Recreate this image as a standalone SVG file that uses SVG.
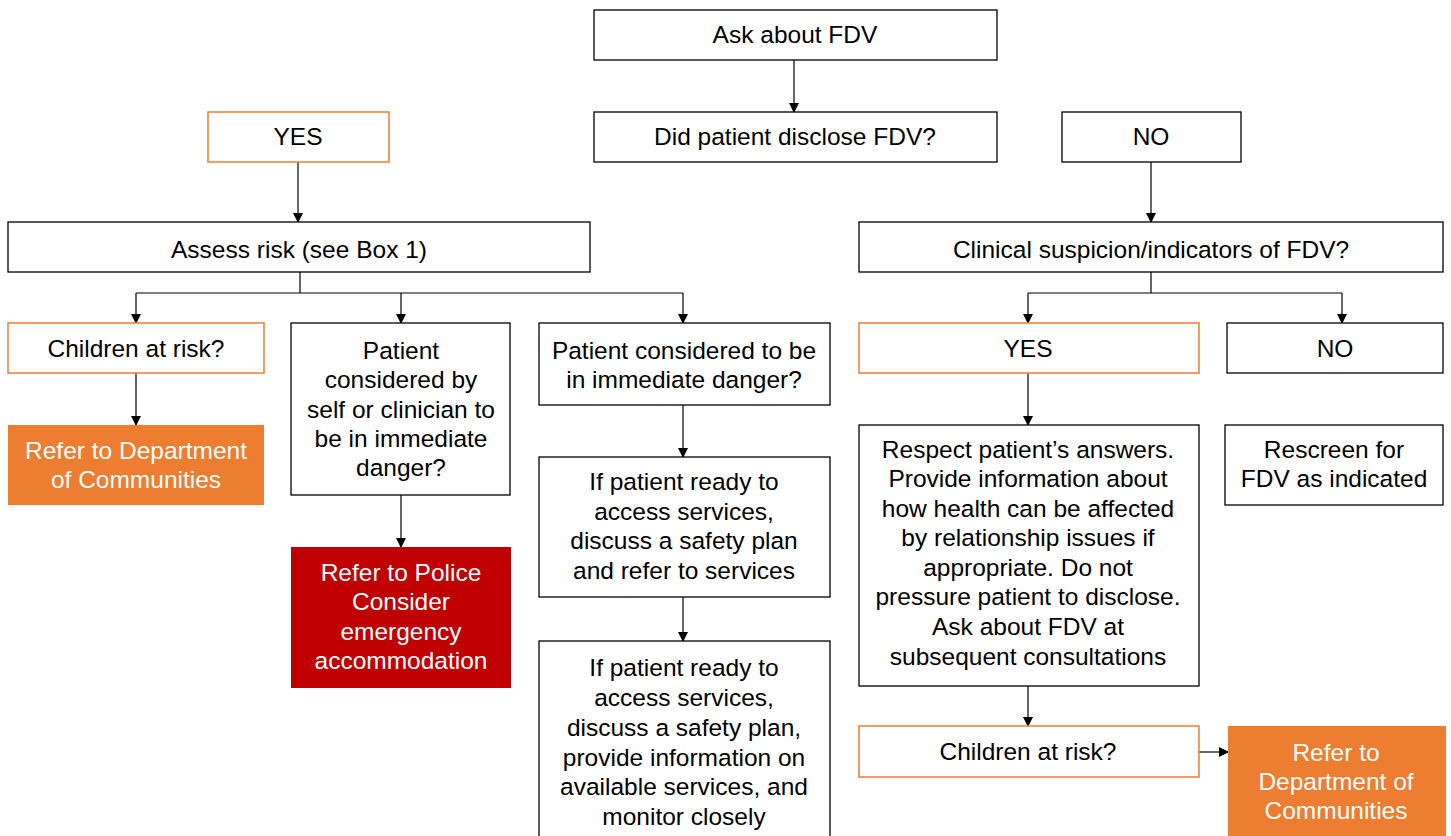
<svg xmlns="http://www.w3.org/2000/svg" width="1451" height="836" viewBox="0 0 1451 836">
<defs>
<marker id="ah" markerWidth="10" markerHeight="10" refX="9" refY="5" orient="auto" markerUnits="userSpaceOnUse">
<path d="M0,0 L10,5 L0,10 Z" fill="#000"/>
</marker>
<style>
text{font-family:"Liberation Sans",Arial,sans-serif;font-size:24.5px;text-anchor:middle;fill:#000}
.box{fill:#fff;stroke:#000;stroke-width:1.3}
.obox{fill:#fff;stroke:#ED7D31;stroke-width:1.5}
.ofill{fill:#ED7D31;stroke:none}
.rfill{fill:#C00000;stroke:none}
.w{fill:#fff}
.c{fill:none;stroke:#000;stroke-width:1.2}
.ca{fill:none;stroke:#000;stroke-width:1.2;marker-end:url(#ah)}
</style>
</defs>
<rect width="1451" height="836" fill="#fff"/>
<g id="connectors">
<path class="ca" d="M794,60 V112"/>
<path class="ca" d="M298,162 V222"/>
<path class="ca" d="M1151,162 V222"/>
<path class="c" d="M300,272 V293 M136,293 H683"/>
<path class="ca" d="M136,293 V323"/>
<path class="ca" d="M401,293 V323"/>
<path class="ca" d="M683,293 V323"/>
<path class="c" d="M1151,272 V293 M1028,293 H1342"/>
<path class="ca" d="M1028,293 V323"/>
<path class="ca" d="M1342,293 V323"/>
<path class="ca" d="M136,373 V425"/>
<path class="ca" d="M401,495 V547"/>
<path class="ca" d="M683,405 V457"/>
<path class="ca" d="M683,597 V641"/>
<path class="ca" d="M1028,373 V425"/>
<path class="ca" d="M1028,686 V726"/>
<path class="ca" d="M1199,752 H1228"/>
</g>
<g id="ask">
<rect class="box" x="594" y="10" width="403" height="50"/>
<text x="795" y="43">Ask about FDV</text>
</g>
<g id="disclose">
<rect class="box" x="594" y="112" width="403" height="50"/>
<text x="795" y="145">Did patient disclose FDV?</text>
</g>
<g id="yes1">
<rect class="obox" x="208" y="112" width="181" height="50"/>
<text x="298" y="145">YES</text>
</g>
<g id="no1">
<rect class="box" x="1062" y="112" width="179" height="50"/>
<text x="1151" y="145">NO</text>
</g>
<g id="assess">
<rect class="box" x="8" y="222" width="582" height="50"/>
<text x="299" y="258">Assess risk (see Box 1)</text>
</g>
<g id="clinical">
<rect class="box" x="859" y="222" width="584" height="50"/>
<text x="1151" y="258">Clinical suspicion/indicators of FDV?</text>
</g>
<g id="children1">
<rect class="obox" x="8" y="323" width="256" height="50"/>
<text x="136" y="357">Children at risk?</text>
</g>
<g id="patient-self">
<rect class="box" x="291" y="323" width="219" height="172"/>
<text x="401" y="359">Patient</text>
<text x="401" y="388">considered by</text>
<text x="401" y="418">self or clinician to</text>
<text x="401" y="447">be in immediate</text>
<text x="401" y="476">danger?</text>
</g>
<g id="patient-danger">
<rect class="box" x="539" y="323" width="291" height="82"/>
<text x="684" y="359">Patient considered to be</text>
<text x="684" y="388">in immediate danger?</text>
</g>
<g id="yes2">
<rect class="obox" x="859" y="323" width="340" height="50"/>
<text x="1028" y="357">YES</text>
</g>
<g id="no2">
<rect class="box" x="1227" y="323" width="216" height="50"/>
<text x="1335" y="357">NO</text>
</g>
<g id="refer-dept1">
<rect class="ofill" x="8" y="425" width="256" height="80"/>
<text class="w" x="136" y="459">Refer to Department</text>
<text class="w" x="136" y="488">of Communities</text>
</g>
<g id="refer-police">
<rect class="rfill" x="291" y="547" width="220" height="141"/>
<text class="w" x="401" y="581">Refer to Police</text>
<text class="w" x="401" y="610">Consider</text>
<text class="w" x="401" y="640">emergency</text>
<text class="w" x="401" y="669">accommodation</text>
</g>
<g id="ready1">
<rect class="box" x="539" y="457" width="291" height="140"/>
<text x="684" y="490">If patient ready to</text>
<text x="684" y="520">access services,</text>
<text x="684" y="549">discuss a safety plan</text>
<text x="684" y="579">and refer to services</text>
</g>
<g id="ready2">
<rect class="box" x="539" y="641" width="291" height="200"/>
<text x="684" y="676">If patient ready to</text>
<text x="684" y="706">access services,</text>
<text x="684" y="736">discuss a safety plan,</text>
<text x="684" y="766">provide information on</text>
<text x="684" y="795">available services, and</text>
<text x="684" y="825">monitor closely</text>
</g>
<g id="respect">
<rect class="box" x="859" y="425" width="340" height="261"/>
<text x="1028" y="458">Respect patient’s answers.</text>
<text x="1028" y="487">Provide information about</text>
<text x="1028" y="517">how health can be affected</text>
<text x="1028" y="546">by relationship issues if</text>
<text x="1028" y="576">appropriate. Do not</text>
<text x="1028" y="605">pressure patient to disclose.</text>
<text x="1028" y="635">Ask about FDV at</text>
<text x="1028" y="665">subsequent consultations</text>
</g>
<g id="rescreen">
<rect class="box" x="1225" y="425" width="218" height="80"/>
<text x="1334" y="458">Rescreen for</text>
<text x="1334" y="487">FDV as indicated</text>
</g>
<g id="children2">
<rect class="obox" x="859" y="726" width="340" height="51"/>
<text x="1028" y="760">Children at risk?</text>
</g>
<g id="refer-dept2">
<rect class="ofill" x="1228" y="726" width="218" height="115"/>
<text class="w" x="1336" y="761">Refer to</text>
<text class="w" x="1336" y="790">Department of</text>
<text class="w" x="1336" y="819">Communities</text>
</g>
</svg>
